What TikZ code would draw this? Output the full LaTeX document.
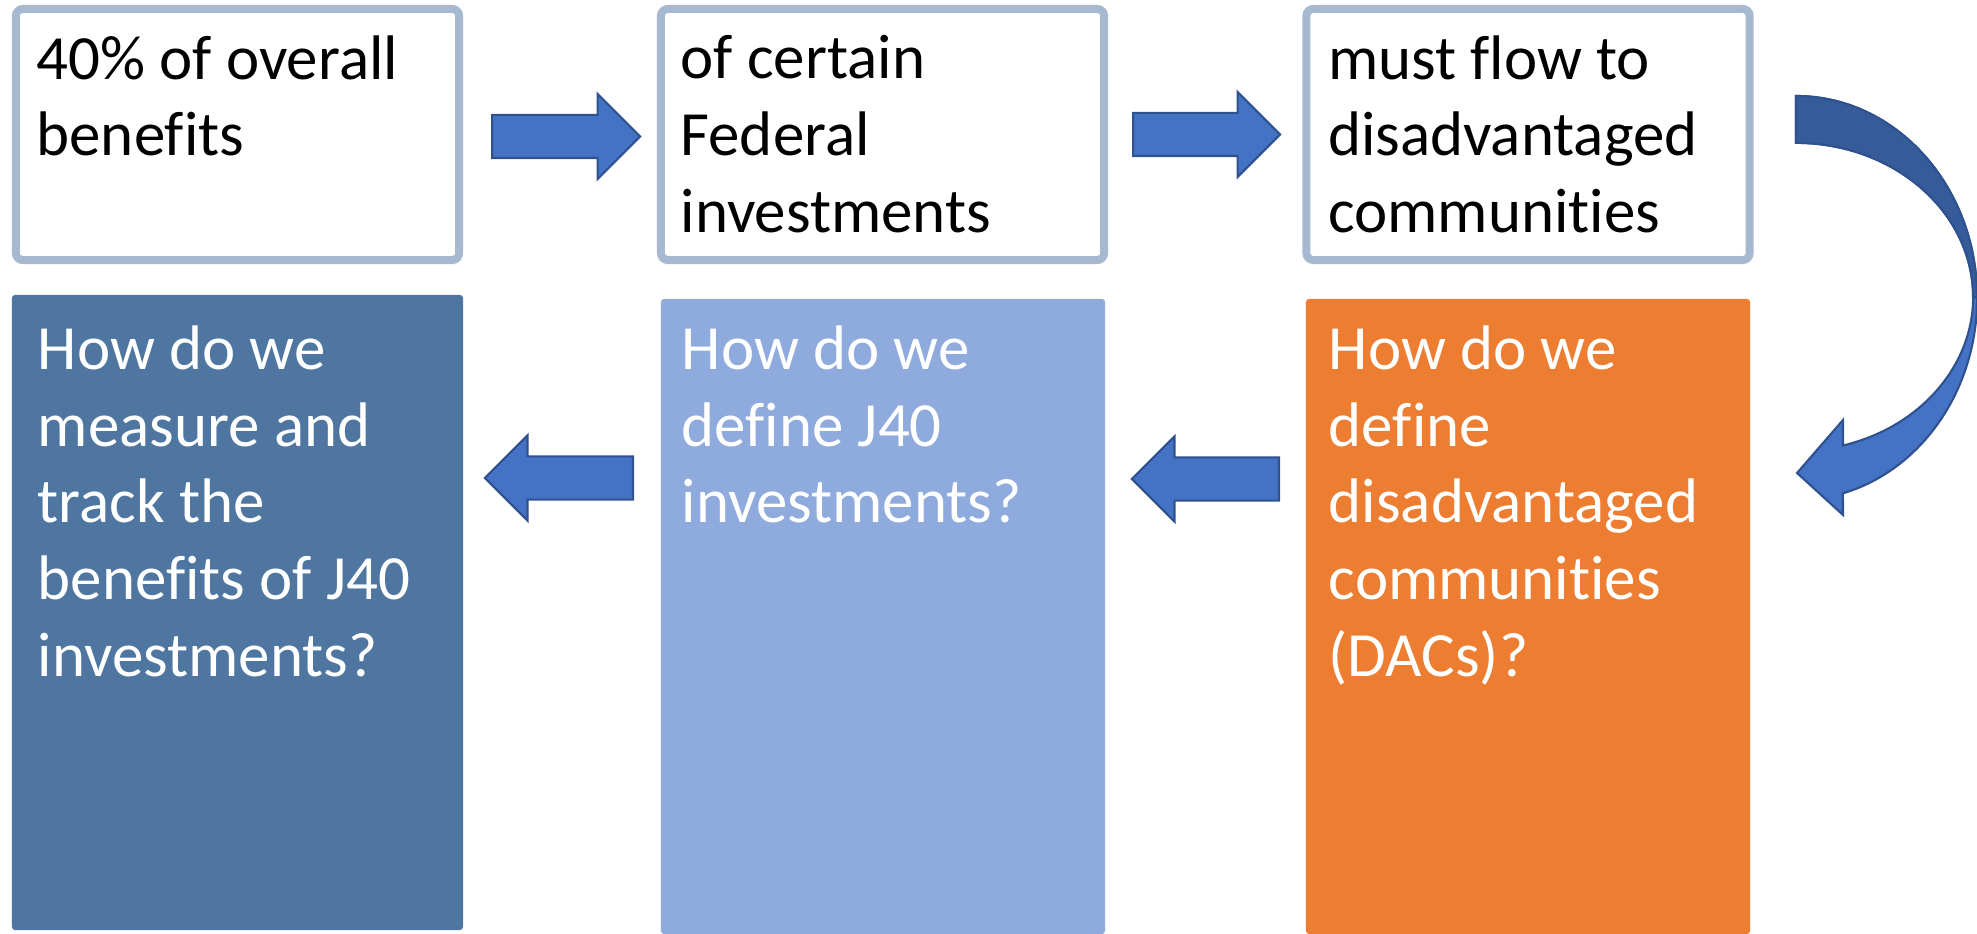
\documentclass[tikz,border=0pt]{standalone}
\usepackage{fontspec}
\setmainfont{Carlito}[Ligatures=CommonOff]
\usetikzlibrary{positioning,shapes.arrows}

\definecolor{boxline}{HTML}{A6B9D1}
\definecolor{qdark}{HTML}{4E76A0}
\definecolor{qlight}{HTML}{8FAADC}
\definecolor{qorange}{HTML}{ED7D31}
\definecolor{arrowfill}{HTML}{4472C4}
\definecolor{arrowline}{HTML}{2F528F}
\definecolor{arrowshade}{HTML}{355C99}

\begin{document}
\begin{tikzpicture}
  [x=0.01cm,y=0.01cm,
   topbox/.style={rectangle, draw=boxline, line width=0.08cm, rounded corners=2pt, minimum width=4.43cm, minimum height=2.51cm},
   askbox/.style={rectangle, rounded corners=1pt, minimum width=4.44cm, minimum height=6.35cm},
   boxtext/.style={inner sep=0pt, align=left, font=\fontsize{17.9pt}{21.8pt}\selectfont},
   flow/.style={single arrow, draw=arrowline, fill=arrowfill, line width=0.6pt, inner xsep=0pt, inner ysep=0.205cm, minimum height=1.48cm, minimum width=0.83cm, single arrow head extend=0.21cm, anchor=tail}]
  \useasboundingbox (0,0) rectangle (1977,934);

  % top row
  \node [topbox] (share) at (237.5,799.5) {};
  \node [topbox] (invest) at (882.5,799.5) {};
  \node [topbox] (flowto) at (1528,799.5) {};
  \node [boxtext, below right=0.30cm and 0.24cm of share.north west] (sharetxt) {40\% of overall\\benefits};
  \node [boxtext, below right=0.30cm and 0.23cm of invest.north west] (investtxt) {of certain\\Federal\\investments};
  \node [boxtext, below right=0.30cm and 0.25cm of flowto.north west] (flowtotxt) {must flow to\\disadvantaged\\communities};

  % bottom row
  \node [askbox, fill=qdark, minimum width=4.51cm] (measure) at (237.5,321.5) {};
  \node [askbox, fill=qlight] (define) at (883,317.5) {};
  \node [askbox, fill=qorange] (dacs) at (1528,317.5) {};
  \node [boxtext, text=white, below right=0.31cm and 0.26cm of measure.north west] (measuretxt) {How do we\\measure and\\track the\\benefits of J40\\investments?};
  \node [boxtext, text=white, below right=0.27cm and 0.21cm of define.north west] (definetxt) {How do we\\define J40\\investments?};
  \node [boxtext, text=white, below right=0.27cm and 0.23cm of dacs.north west] (dacstxt) {How do we\\define\\disadvantaged\\communities\\(DACs)?};

  % block arrows
  \node [flow] (a1) at (491,797.5) {};
  \node [flow, minimum height=1.47cm] (a2) at (1132,799.5) {};
  \node [flow, shape border rotate=180] (a3) at (634,456) {};
  \node [flow, shape border rotate=180, minimum height=1.47cm] (a4) at (1280,455) {};

  % curved arrow
  \fill [arrowfill, draw=arrowline, line width=0.6pt]
    (1796,838) arc[start angle=90, end angle=-75, x radius=1.81cm, y radius=2.02cm]
    -- (1843,419) -- (1797,461) -- (1843,514) -- (1843,488.5)
    arc[start angle=-74.6, end angle=90, x radius=1.77cm, y radius=1.54cm] -- cycle;
  \fill [arrowshade, draw=arrowline, line width=0.6pt]
    (1796,838) arc[start angle=90, end angle=0, x radius=1.81cm, y radius=2.02cm]
    -- (1973,637) arc[start angle=0, end angle=90, x radius=1.77cm, y radius=1.54cm] -- cycle;
\end{tikzpicture}
\end{document}
